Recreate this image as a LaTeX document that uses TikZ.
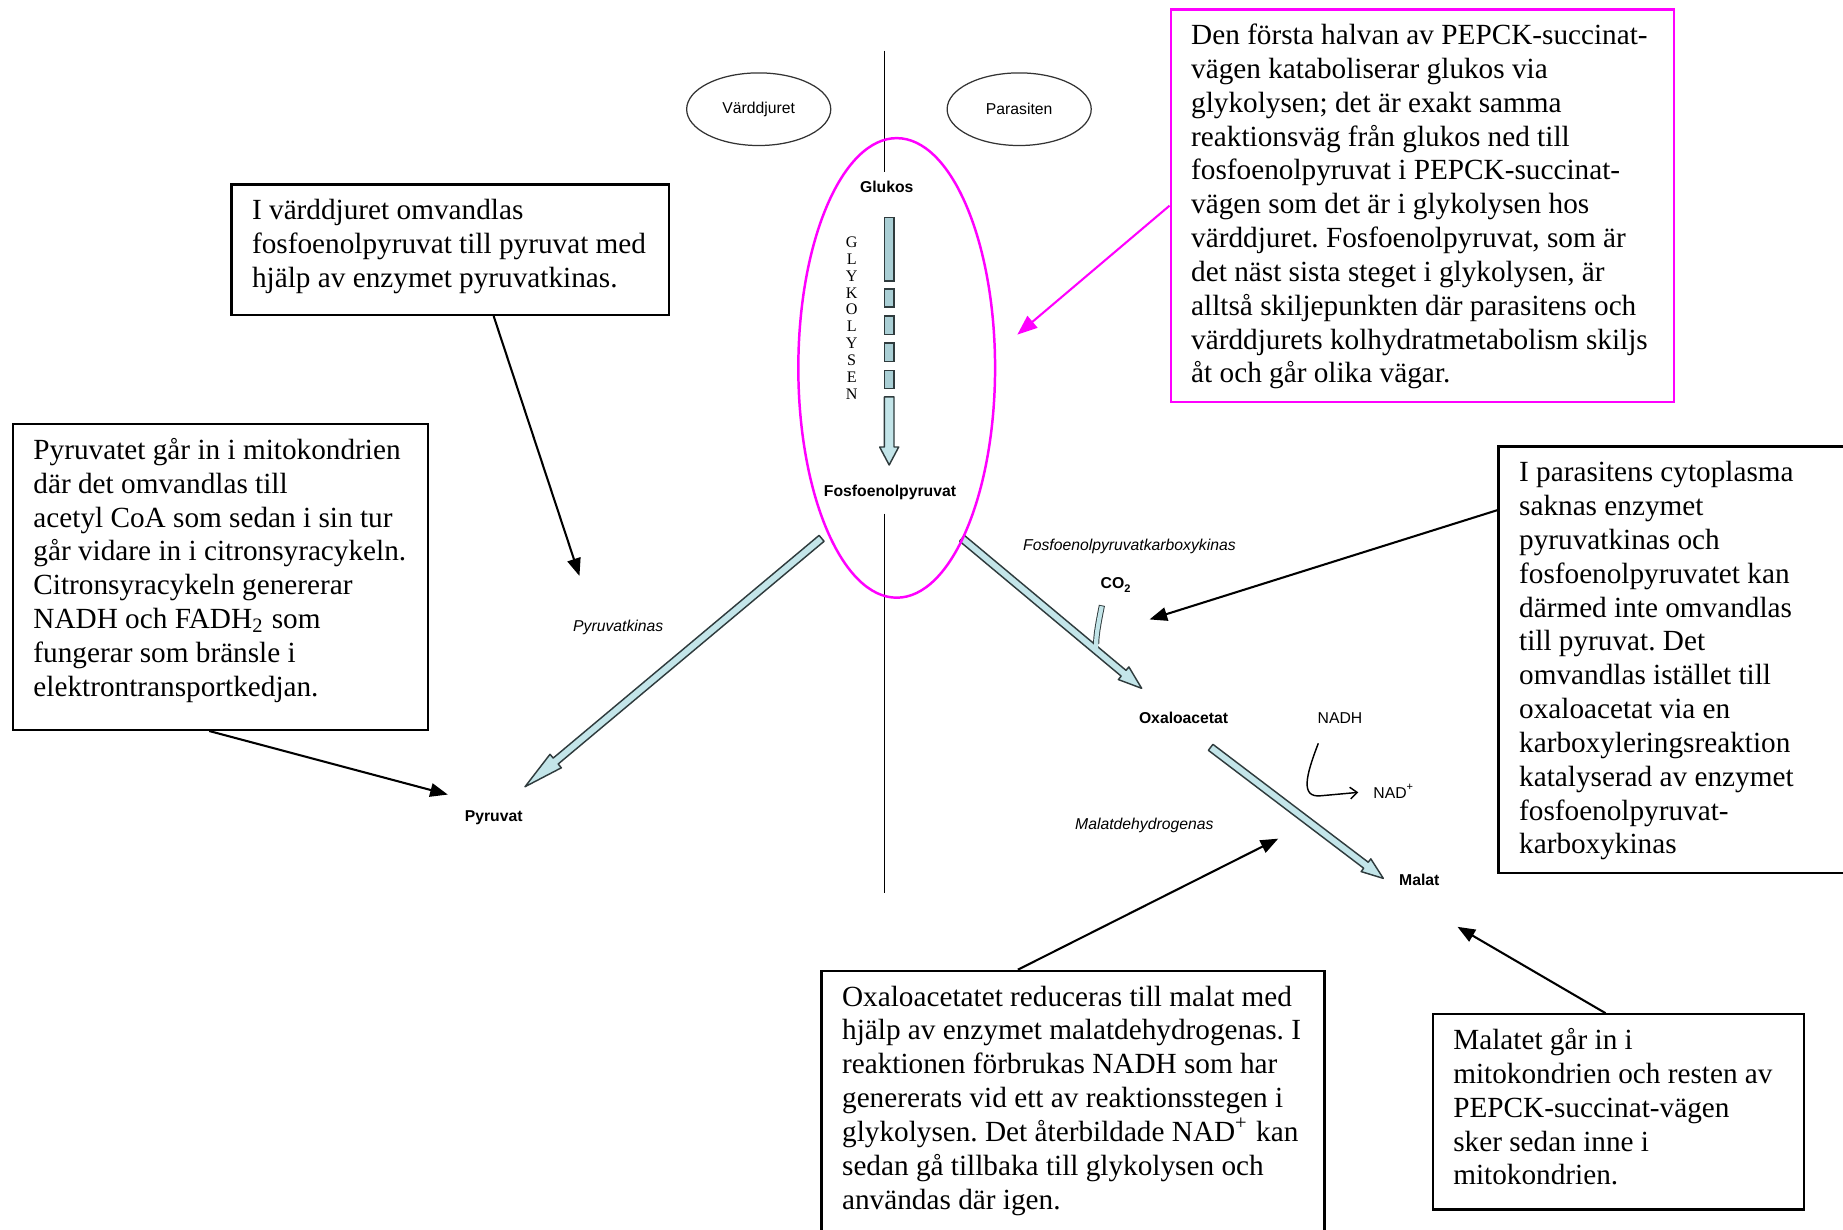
\documentclass[tikz,border=0pt]{standalone}
\usepackage{fontspec}
\setmainfont{Liberation Serif}
\newfontfamily\sansfont{Liberation Sans}
\usetikzlibrary{arrows.meta,calc,shapes.geometric}
\frenchspacing

\definecolor{flowfill}{HTML}{C3E5E9}
\definecolor{barfill}{HTML}{AACFD5}
\definecolor{flowline}{HTML}{2F3B3D}
\definecolor{notemag}{HTML}{FF00FF}

\newcommand\notesize{\fontsize{7.08pt}{8.19pt}\selectfont}
\newcommand\lblsize{\fontsize{3.81pt}{4.6pt}\selectfont}
% text block of fixed size, lines set top-left and never rewrapped
\newcommand\notebody[3]{\parbox[c][#2][t]{#1}{\begin{tabular}[t]{@{}l@{}}#3\end{tabular}}}

% broad reaction arrow: #1 start, #2 tip, #3 shaft half width, #4 head half width, #5 head length
\newcommand\blockarrow[5]{%
  \coordinate (bahead) at ($(#2)!#5!(#1)$);
  \draw[flow] ($(#1)!#3!90:(#2)$) -- ($(bahead)!#3!-90:(#1)$) -- ($(bahead)!#4!-90:(#1)$)
    -- (#2) -- ($(bahead)!#4!90:(#1)$) -- ($(bahead)!#3!90:(#1)$) -- ($(#1)!#3!-90:(#2)$) -- cycle;}

\tikzset{
  note/.style={draw=black, line width=0.55pt, inner xsep=1.75mm, inner ysep=0.98mm,
    anchor=north west, font=\notesize},
  lbl/.style={font=\sansfont\lblsize, inner sep=0},
  lblb/.style={font=\sansfont\bfseries\lblsize, inner sep=0},
  lbli/.style={font=\sansfont\itshape\lblsize, inner sep=0},
  stack/.style={font=\rmfamily\fontsize{3.9pt}{4.07pt}\selectfont, align=center, inner sep=0},
  orgname/.style={draw=black!80, ellipse, line width=0.3pt, minimum width=12.26mm,
    minimum height=6.18mm, inner sep=0, font=\sansfont\lblsize},
  pointer/.style={line width=0.5pt, -{Triangle[length=1.5mm,width=1.15mm]}},
  thinarrow/.style={line width=0.35pt, -{Straight Barb[length=0.6mm,width=1.0mm]}},
  divider/.style={line width=0.4pt, black},
  flow/.style={fill=flowfill, draw=flowline, line width=0.35pt, line join=round},
  bar/.style={fill=barfill, draw=flowline, line width=0.35pt},
}

\begin{document}
\begin{tikzpicture}[x=0.1mm,y=-0.1mm]
\useasboundingbox (0,0) rectangle (1568,1046);
\fill[white] (0,0) rectangle (1568,1046);

% host / parasite divider
\coordinate (divtop) at (752.4,43);
\coordinate (divmidA) at (752.4,146);
\coordinate (divmidB) at (752.4,437);
\coordinate (divbot) at (752.4,760);
\draw[divider] (divtop) -- (divmidA);
\draw[divider] (divmidB) -- (divbot);

\node[orgname] (host) at (645.5,92.9) {Värddjuret};
\node[orgname] (parasite) at (867.1,92.9) {Parasiten};

% glycolysis column
\node[lblb] (glc) at (754.4,159.2) {Glukos};
\node[stack] (glyk) at (724.6,270.6) {G\\L\\Y\\K\\O\\L\\Y\\S\\E\\N};
\draw[bar] (752.4,185) rectangle (760.6,239.1);
\draw[bar] (752.4,245.8) rectangle (760.6,261.3);
\draw[bar] (752.4,268.9) rectangle (760.6,284.7);
\draw[bar] (752.4,291.7) rectangle (760.6,307.5);
\draw[bar] (752.4,315.1) rectangle (760.6,330.3);
\draw[flow] (752.4,337.7) -- (760.6,337.7) -- (760.6,380.3) -- (764.6,380.3)
  -- (756.5,395.6) -- (748.4,380.3) -- (752.4,380.3) -- cycle;
\node[lblb] (pep) at (757.2,419.3) {Fosfoenolpyruvat};

% metabolite and enzyme labels
\node[lbli] (pk) at (526,533.7) {Pyruvatkinas};
\node[lblb] (pyr) at (420,696) {Pyruvat};
\node[lbli] (pepck) at (960.9,465.1) {Fosfoenolpyruvatkarboxykinas};
\node[lblb] (co2) at (950,497.7) {CO\textsubscript{2}};
\node[lblb] (oaa) at (1007,611.1) {Oxaloacetat};
\node[lbl] (nadh) at (1140,611.1) {NADH};
\node[lbl, anchor=west] (nadp) at (1167.8,673) {NAD\textsuperscript{+}};
\node[lbli] (mdh) at (973.6,701.9) {Malatdehydrogenas};
\node[lblb] (mal) at (1207.5,748.7) {Malat};

% reaction arrows
\coordinate (pkfrom) at (699,458);
\coordinate (pkto) at (446.7,669.3);
\blockarrow{pkfrom}{pkto}{0.33mm}{0.75mm}{3.4mm}

\coordinate (pcfrom) at (818.5,458);
\coordinate (pcto) at (971.3,585.6);
\blockarrow{pcfrom}{pcto}{0.32mm}{0.7mm}{2.0mm}

% CO2 feeding into the carboxylation
\coordinate (co2from) at (937.5,515);
\coordinate (co2join) at (932.3,553);
\draw[flowline, line width=0.52mm] (co2from) .. controls (934.5,530) and (932.6,540) .. (932.6,548);
\draw[flowfill, line width=0.36mm, shorten <=0.08mm] (co2from) .. controls (934.5,530) and (932.6,540) .. (932.6,548) -- (co2join);

\coordinate (mdfrom) at (1030,635.8);
\coordinate (mdto) at (1176.9,747.3);
\blockarrow{mdfrom}{mdto}{0.32mm}{0.68mm}{1.85mm}

% NADH is oxidised to NAD+
\coordinate (nadhfrom) at (1121.6,632.4);
\draw[thinarrow, shorten >=1.22mm] (nadhfrom) .. controls (1111,660) and (1106,679) .. (1124,677) -- (nadp.west);

% branch point ring
\node[draw=notemag, ellipse, line width=0.6pt, minimum width=16.74mm, minimum height=39.1mm,
  inner sep=0] (split) at (762.9,313) {};

% explanatory notes
\node[note] (noteA) at (196,156) {\notebody{33.7mm}{9.14mm}{%
I värddjuret omvandlas\\
fosfoenolpyruvat till pyruvat med\\
hjälp av enzymet pyruvatkinas.}};

\node[note] (noteB) at (10,360) {\notebody{31.8mm}{24.04mm}{%
Pyruvatet går in i mitokondrien\\
där det omvandlas till\\
acetyl CoA som sedan i sin tur\\
går vidare in i citronsyracykeln.\\
Citronsyracykeln genererar\\
NADH och FADH\textsubscript{2} som\\
fungerar som bränsle i\\
elektrontransportkedjan.}};

\node[note, draw=notemag] (noteC) at (995,7) {\notebody{39.3mm}{31.44mm}{%
Den första halvan av PEPCK-succinat-\\
vägen kataboliserar glukos via\\
glykolysen; det är exakt samma\\
reaktionsväg från glukos ned till\\
fosfoenolpyruvat i PEPCK-succinat-\\
vägen som det är i glykolysen hos\\
värddjuret. Fosfoenolpyruvat, som är\\
det näst sista steget i glykolysen, är\\
alltså skiljepunkten där parasitens och\\
värddjurets kolhydratmetabolism skiljs\\
åt och går olika vägar.}};

\node[note] (noteD) at (1274,379) {\notebody{29.5mm}{34.34mm}{%
I parasitens cytoplasma\\
saknas enzymet\\
pyruvatkinas och\\
fosfoenolpyruvatet kan\\
därmed inte omvandlas\\
till pyruvat. Det\\
omvandlas istället till\\
oxaloacetat via en\\
karboxyleringsreaktion\\
katalyserad av enzymet\\
fosfoenolpyruvat-\\
karboxykinas}};

\node[note] (noteE) at (698,825) {\notebody{39.3mm}{22.54mm}{%
Oxaloacetatet reduceras till malat med\\
hjälp av enzymet malatdehydrogenas. I\\
reaktionen förbrukas NADH som har\\
genererats vid ett av reaktionsstegen i\\
glykolysen. Det återbildade NAD\textsuperscript{+} kan\\
sedan gå tillbaka till glykolysen och\\
användas där igen.}};

\node[note] (noteF) at (1218,862) {\notebody{28.1mm}{14.64mm}{%
Malatet går in i\\
mitokondrien och resten av\\
PEPCK-succinat-vägen\\
sker sedan inne i\\
mitokondrien.}};

% pointers from the notes
\coordinate (tipA) at (493,490);
\coordinate (tipB) at (381,676);
\coordinate (tipC) at (865.5,284.7);
\coordinate (tipD) at (978,527);
\coordinate (tipE) at (1087.5,713.5);
\coordinate (tipF) at (1240,788.5);
\draw[pointer] ($(noteA.south west)+(224,0)$) -- (tipA);
\draw[pointer] ($(noteB.south west)+(168,0)$) -- (tipB);
\draw[pointer, notemag, -{Triangle[length=1.7mm,width=1.3mm]}] ($(noteC.north west)+(0,168)$) -- (tipC);
\draw[pointer] ($(noteD.north west)+(0,55)$) -- (tipD);
\draw[pointer] ($(noteE.north west)+(168,0)$) -- (tipE);
\draw[pointer] ($(noteF.north west)+(148,0)$) -- (tipF);
\end{tikzpicture}
\end{document}
